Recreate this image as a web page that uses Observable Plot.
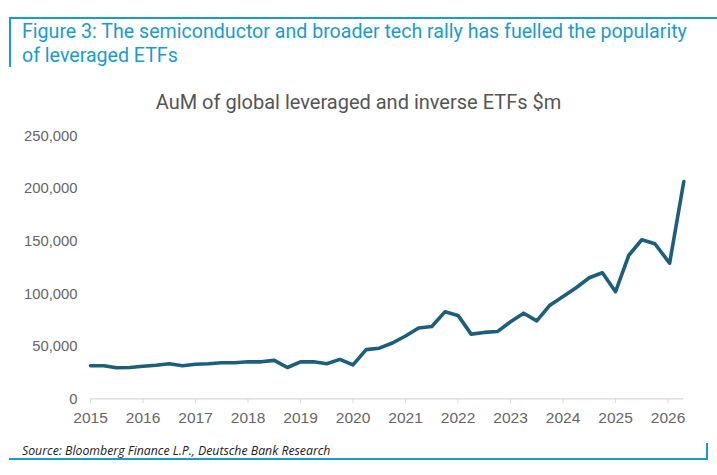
<!DOCTYPE html>
<html>
<head>
<meta charset="utf-8">
<script src="https://cdn.jsdelivr.net/npm/d3@7"></script>
<script src="https://cdn.jsdelivr.net/npm/@observablehq/plot@0.6"></script>
<style>
  body { margin: 0; background: #fff; }
  #wrap { position: relative; width: 717px; height: 475px; overflow: hidden; background: #fff; }
  #topline { position: absolute; left: 10px; top: 17px; width: 707px; height: 2px; background: #1a9bd0; }
  #leftline { position: absolute; left: 9px; top: 17px; width: 2px; height: 50px; background: #1a9bd0; }
  #fig { position: absolute; left: 22px; top: 20px; width: 695px; font-family: Roboto, "Noto Sans", sans-serif; font-size: 19.6px; line-height: 24px; color: #1a9bd0; font-weight: 400; white-space: nowrap; }
  #ctitle { position: absolute; left: 0; width: 717px; top: 90px; text-align: center; font-family: Roboto, "Noto Sans", sans-serif; font-size: 20px; color: #555555; }
  #chart { position: absolute; left: 0; top: 120px; }
  #src { position: absolute; left: 22px; top: 442px; font-family: "Open Sans", "Noto Sans", sans-serif; font-style: italic; font-size: 12.3px; color: #222; }
  #botline { position: absolute; left: 9px; top: 458px; width: 699px; height: 2px; background: #1a9bd0; }
  #rightline { position: absolute; left: 706px; top: 443px; width: 2px; height: 17px; background: #1a9bd0; }
</style>
</head>
<body>
<div id="wrap">
  <div id="topline"></div>
  <div id="leftline"></div>
  <div id="fig">Figure 3: The semiconductor and broader tech rally has fuelled the popularity<br>of leveraged ETFs</div>
  <div id="ctitle">AuM of global leveraged and inverse ETFs $m</div>
  <div id="chart"></div>
  <div id="src">Source: Bloomberg Finance L.P., Deutsche Bank Research</div>
  <div id="botline"></div>
  <div id="rightline"></div>
</div>
<script>
// Period (decimal year) and AuM in $m
const periods = [
  2015.00, 2015.25, 2015.50, 2015.75,
  2016.00, 2016.25, 2016.50, 2016.75,
  2017.00, 2017.25, 2017.50, 2017.75,
  2018.00, 2018.25, 2018.50, 2018.75,
  2019.00, 2019.25, 2019.50, 2019.75,
  2020.00, 2020.25, 2020.50, 2020.75,
  2021.00, 2021.25, 2021.50, 2021.75,
  2022.00, 2022.25, 2022.50, 2022.75,
  2023.00, 2023.25, 2023.50, 2023.75,
  2024.00, 2024.25, 2024.50, 2024.75,
  2025.00, 2025.25, 2025.50, 2025.75,
  2026.03, 2026.30
];
const aum = [
  31400, 31400, 29600, 29800,
  31000, 32000, 33300, 31400,
  32900, 33300, 34300, 34300,
  35200, 35200, 36600, 29800,
  35200, 35200, 33400, 37500,
  32300, 46800, 48200, 53100,
  59800, 67400, 68800, 82800,
  79400, 61600, 63200, 64000,
  73300, 81500, 74200, 89100,
  97400, 105700, 115200, 120000,
  102000, 136400, 151400, 147600,
  129100, 206900
];
const yTicks = [0, 50000, 100000, 150000, 200000, 250000];
const xTicks = [2015, 2016, 2017, 2018, 2019, 2020, 2021, 2022, 2023, 2024, 2025, 2026];

const data = periods.map((p, i) => ({period: p, aum: aum[i]}));

const chart = Plot.plot({
  width: 717,
  height: 310,
  marginLeft: 90,
  marginRight: 33.7,
  marginTop: 15.7,
  marginBottom: 31.7,
  style: {fontFamily: "'Liberation Sans', Arial, sans-serif", fontSize: "15px", color: "#595959", background: "transparent"},
  x: {domain: [2015, 2026.3], ticks: xTicks, tickFormat: "d"},
  y: {domain: [0, 250000], ticks: yTicks},
  marks: [
    Plot.ruleY([0], {stroke: "#d9d9d9", strokeWidth: 1.2}),
    Plot.axisY({ticks: yTicks, tickSize: 0, tickPadding: 13, tickFormat: d3.format(","), label: null, fontSize: 14.8, fill: "#666666"}),
    Plot.axisX({ticks: xTicks, tickFormat: "d", tickSize: 5, tickPadding: 8, stroke: "#d9d9d9", label: null, fontSize: 15.5, fill: "#666666"}),
    Plot.line(data, {x: "period", y: "aum", stroke: "#1c5e7e", strokeWidth: 3.6, strokeLinejoin: "round", strokeLinecap: "round"})
  ]
});
document.getElementById("chart").appendChild(chart);
</script>
</body>
</html>
